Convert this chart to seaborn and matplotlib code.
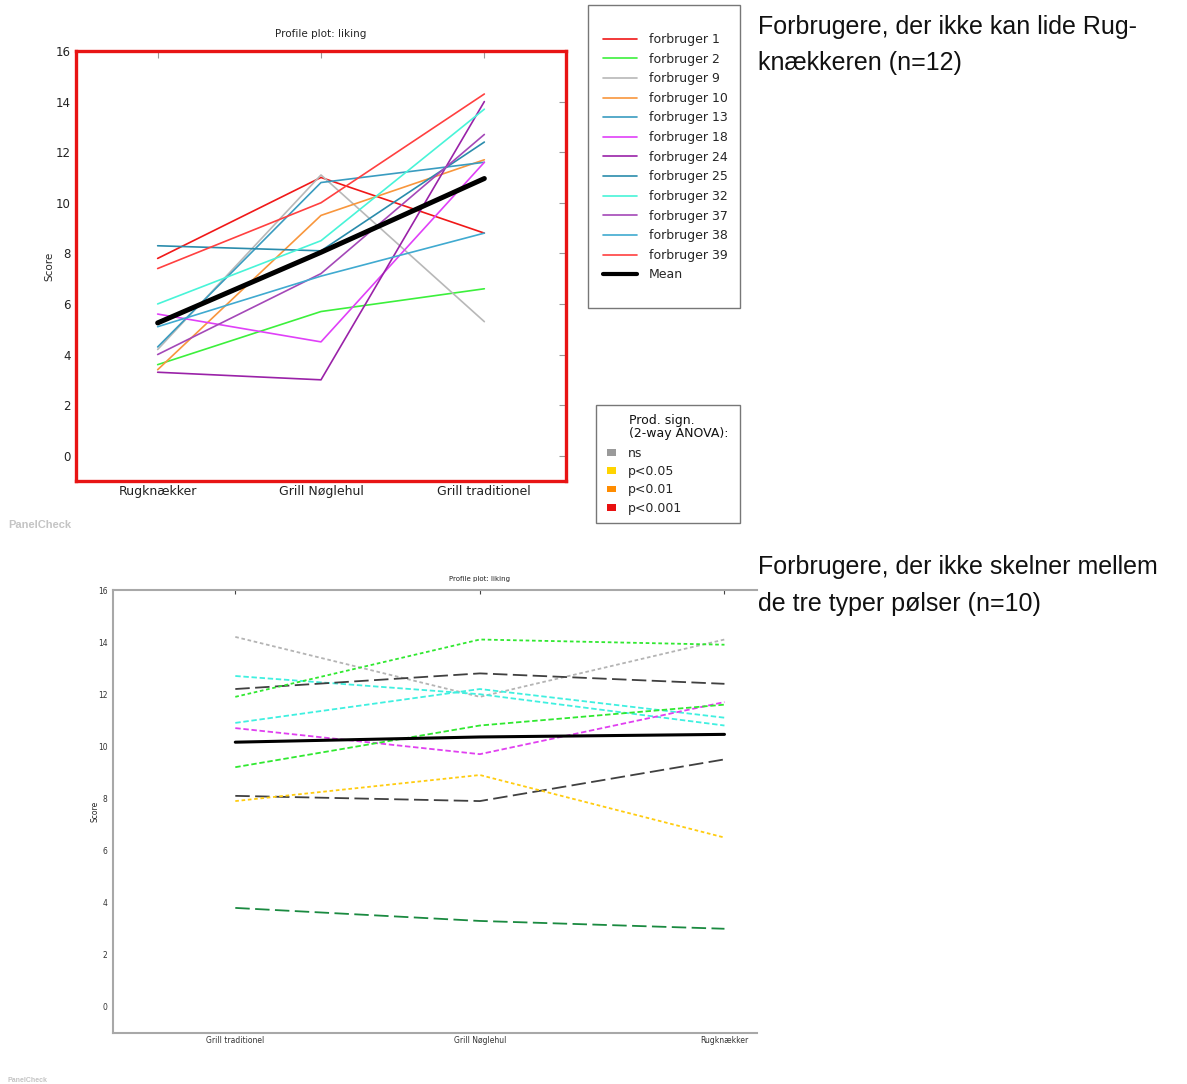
import numpy as np
import pandas as pd
import matplotlib
matplotlib.use("Agg")
import matplotlib.pyplot as plt
import seaborn as sns
from matplotlib.lines import Line2D
from matplotlib.patches import Patch, Rectangle

# ---------------- data: top chart ----------------
products_top = ["Rugknækker", "Grill Nøglehul", "Grill traditionel"]
consumers_top = ["forbruger 1", "forbruger 2", "forbruger 9", "forbruger 10",
                 "forbruger 13", "forbruger 18", "forbruger 24", "forbruger 25",
                 "forbruger 32", "forbruger 37", "forbruger 38", "forbruger 39"]
f1 = [7.8, 11.0, 8.8]
f2 = [3.6, 5.7, 6.6]
f9 = [4.2, 11.1, 5.3]
f10 = [3.4, 9.5, 11.7]
f13 = [4.3, 10.8, 11.6]
f18 = [5.6, 4.5, 11.6]
f24 = [3.3, 3.0, 14.0]
f25 = [8.3, 8.1, 12.4]
f32 = [6.0, 8.5, 13.7]
f37 = [4.0, 7.2, 12.7]
f38 = [5.1, 7.1, 8.8]
f39 = [7.4, 10.0, 14.3]
top_values = [f1, f2, f9, f10, f13, f18, f24, f25, f32, f37, f38, f39]
top_colors = ["#f01818", "#3cf03c", "#b8b8b8", "#f8963c", "#3a9cc0", "#e040f8",
              "#9a22a8", "#2a8cac", "#48f4d8", "#a448b8", "#40aad0", "#ff4040"]

# significance legend
sig_labels = ["ns", "p<0.05", "p<0.01", "p<0.001"]
sig_colors = ["#9a9a9a", "#ffd400", "#ff8c00", "#e81010"]

# ---------------- data: bottom chart ----------------
products_bot = ["Grill traditionel", "Grill Nøglehul", "Rugknækker"]
b_gray = [14.2, 11.9, 14.1]
b_cyan_a = [12.7, 12.0, 10.8]
b_black_a = [12.2, 12.8, 12.4]
b_green_a = [11.9, 14.1, 13.9]
b_cyan_b = [10.9, 12.2, 11.1]
b_magenta = [10.7, 9.7, 11.7]
b_green_b = [9.2, 10.8, 11.6]
b_black_b = [8.1, 7.9, 9.5]
b_yellow = [7.9, 8.9, 6.5]
b_darkgreen = [3.8, 3.3, 3.0]
bot_values = [b_gray, b_cyan_a, b_black_a, b_green_a, b_cyan_b, b_magenta,
              b_green_b, b_black_b, b_yellow, b_darkgreen]
bot_names = ["c1", "c2", "c3", "c4", "c5", "c6", "c7", "c8", "c9", "c10"]
bot_colors = ["#b4b4b4", "#40f0e0", "#404040", "#30e830", "#40f0e0", "#e040f0",
              "#30e830", "#404040", "#ffcc10", "#1a8a40"]
bot_dashes = [(2, 1.5), (3, 1.5), (8, 3), (2, 1.5), (3, 1.5), (3, 1.5),
              (3, 1.5), (8, 3), (2, 1.5), (8, 3)]

# ---------------- figure ----------------
sns.set_theme(style="white")
plt.rcParams["font.family"] = ["DejaVu Sans"]
W, H = 1187, 1084
fig = plt.figure(figsize=(W / 100, H / 100), dpi=100)
fig.patch.set_facecolor("white")


def fbox(x0, y0, x1, y1):
    return [x0 / W, 1 - y1 / H, (x1 - x0) / W, (y1 - y0) / H]


# ---- top axes ----
ax1 = fig.add_axes(fbox(76, 51, 566, 481))
rows = []
for name, vals in zip(consumers_top, top_values):
    for i, (p, v) in enumerate(zip(products_top, vals)):
        rows.append({"consumer": name, "product": p, "pos": i, "score": v})
df_top = pd.DataFrame(rows)
pal_top = dict(zip(consumers_top, top_colors))
sns.lineplot(data=df_top, x="pos", y="score", hue="consumer", palette=pal_top,
             estimator=None, sort=False, lw=1.2, legend=False, ax=ax1)
mean_top = df_top.groupby("pos")["score"].mean()
sns.lineplot(x=mean_top.index, y=mean_top.values, color="black", lw=3.6,
             estimator=None, sort=False, ax=ax1)
ax1.set_xlim(-0.5, 2.5)
ax1.set_ylim(-1, 16)
ax1.set_yticks(np.arange(0, 17, 2))
ax1.set_xticks(range(len(products_top)))
ax1.set_xticklabels(products_top, fontsize=9, color="#222222")
ax1.tick_params(axis="y", labelsize=8.5, labelcolor="#222222")
ax1.tick_params(direction="in", top=True, right=True, length=5, width=0.8,
                color="#999999", pad=4)
ax1.tick_params(axis="x", pad=3)
ax1.set_xlabel("")
ax1.set_ylabel("Score", fontsize=7.5, labelpad=1)
ax1.set_title("Profile plot: liking", fontsize=7.5, pad=10)
for s in ax1.spines.values():
    s.set_color("#e81414")
    s.set_linewidth(2.4)
    s.set_visible(True)

# legend 1
h1 = [Line2D([0], [0], color=c, lw=1.2) for c in top_colors]
h1.append(Line2D([0], [0], color="black", lw=3.0))
lab1 = consumers_top + ["Mean"]
fig.legend(h1, lab1, loc="upper left", bbox_to_anchor=(603 / W, 1 - 33 / H),
           frameon=False, fontsize=9, handlelength=2.7, handletextpad=1.0,
           labelspacing=0.53, borderpad=0, borderaxespad=0)
fig.patches.append(Rectangle((588 / W, 1 - 308 / H), 152 / W, 303 / H,
                             transform=fig.transFigure, fill=False,
                             ec="#777777", lw=1.0))

# legend 2
h2 = [Patch(facecolor=c, edgecolor="none") for c in sig_colors]
fig.legend(h2, sig_labels, loc="upper left", bbox_to_anchor=(607 / W, 1 - 447 / H),
           frameon=False, fontsize=9, handlelength=0.7, handleheight=0.45,
           handletextpad=1.0, labelspacing=0.42, borderpad=0, borderaxespad=0)
fig.text(629 / W, 1 - 414 / H, "Prod. sign.\n(2-way ANOVA):", fontsize=9,
         va="top", ha="left", linespacing=1.05, color="#111111")
fig.patches.append(Rectangle((596 / W, 1 - 523 / H), 144 / W, 118 / H,
                             transform=fig.transFigure, fill=False,
                             ec="#777777", lw=1.0))

fig.text(8 / W, 1 - 525 / H, "PanelCheck", fontsize=8, fontweight="bold",
         color="#c4c4c4", va="center", ha="left", family="Liberation Sans")

# ---- bottom axes ----
ax2 = fig.add_axes(fbox(113, 590, 757, 1033))
rows = []
for name, vals in zip(bot_names, bot_values):
    for i, (p, v) in enumerate(zip(products_bot, vals)):
        rows.append({"consumer": name, "product": p, "pos": i, "score": v})
df_bot = pd.DataFrame(rows)
sns.lineplot(data=df_bot, x="pos", y="score", hue="consumer", style="consumer",
             palette=dict(zip(bot_names, bot_colors)),
             dashes=dict(zip(bot_names, bot_dashes)),
             estimator=None, sort=False, lw=1.3, legend=False, ax=ax2)
mean_bot = df_bot.groupby("pos")["score"].mean()
sns.lineplot(x=mean_bot.index, y=mean_bot.values, color="black", lw=2.2,
             estimator=None, sort=False, ax=ax2)
ax2.set_xlim(-0.5, 2.133)
ax2.set_ylim(-1, 16)
ax2.set_yticks(np.arange(0, 17, 2))
ax2.set_xticks(range(len(products_bot)))
ax2.set_xticklabels(products_bot, fontsize=5.5, color="#333333")
ax2.tick_params(axis="y", labelsize=5.5, labelcolor="#333333")
ax2.tick_params(direction="in", top=True, right=False, length=3, width=0.8,
                color="#444444", pad=4)
ax2.tick_params(axis="x", pad=2)
ax2.set_xlabel("")
ax2.set_ylabel("Score", fontsize=5.5, labelpad=-1)
for side in ["left", "bottom", "top"]:
    ax2.spines[side].set_color("#a8a8a8")
    ax2.spines[side].set_linewidth(1.5)
    ax2.spines[side].set_visible(True)
ax2.spines["right"].set_visible(False)
ax2.text(1, 1.018, "Profile plot: liking", fontsize=5,
         transform=ax2.get_xaxis_transform(), ha="center", va="bottom",
         color="#222222")

fig.text(8 / W, 1 - 1080 / H, "PanelCheck", fontsize=5, fontweight="bold",
         color="#c4c4c4", va="center", ha="left", family="Liberation Sans")

# ---- annotation texts ----
tfont = dict(fontsize=18, family="Liberation Sans", color="#111111",
             ha="left", va="baseline")
fig.text(758 / W, 1 - 34 / H, "Forbrugere, der ikke kan lide Rug-", **tfont)
fig.text(758 / W, 1 - 70 / H, "knækkeren (n=12)", **tfont)
fig.text(758 / W, 1 - 574 / H, "Forbrugere, der ikke skelner mellem", **tfont)
fig.text(758 / W, 1 - 611 / H, "de tre typer pølser (n=10)", **tfont)

fig.savefig("out.png", dpi=100, facecolor="white")
